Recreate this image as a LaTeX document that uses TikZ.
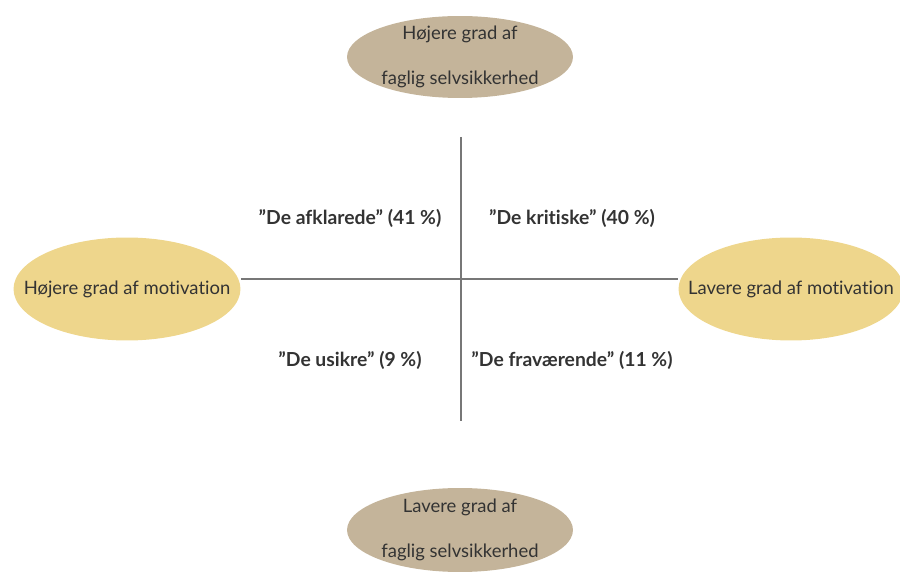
\documentclass[tikz,border=0pt]{standalone}
\usepackage{fontspec}
\setmainfont{Lato}[Ligatures=NoCommon]
\definecolor{taupe}{HTML}{C4B49A}
\definecolor{sand}{HTML}{EED68C}
\definecolor{ink}{HTML}{333333}
\definecolor{axis}{HTML}{777777}
\usetikzlibrary{shapes.geometric}

\begin{document}
\begin{tikzpicture}[x=0.02cm, y=-0.02cm, align=center, text=ink, font=\fontsize{10.5}{12}\selectfont,
    blob/.style={ellipse, inner sep=0pt},
    group/.style={font=\fontsize{11}{13}\selectfont\bfseries}]
      \useasboundingbox (0,0) rectangle (900,574);

      \node[blob, fill=taupe, minimum width=4.52cm, minimum height=1.64cm,
        label={[align=center]center:Højere grad af\\[0.48cm] faglig selvsikkerhed}] (SH) at (460,57) {};
      \node[blob, fill=taupe, minimum width=4.52cm, minimum height=1.68cm,
        label={[align=center]center:Lavere grad af\\[0.48cm] faglig selvsikkerhed}] (SL) at (460,530) {};
      \node[blob, fill=sand, minimum width=4.54cm, minimum height=2.06cm,
        label=center:Højere grad af motivation] (MH) at (127,289) {};
      \node[blob, fill=sand, minimum width=4.5cm, minimum height=2.06cm,
        label=center:Lavere grad af motivation] (ML) at (791,289) {};

      \coordinate (V1) at (461,137);
      \coordinate (V2) at (461,421);
      \coordinate (H1) at (MH.east |- 0,279);
      \coordinate (H2) at (ML.west |- 0,279);

      \draw[axis, thick] (V1) -- (V2);
      \draw[axis, thick] (H1) -- (H2);

      \node[group] (Q1) at (350,218) {”De afklarede” (41 \%)};
      \node[group] (Q2) at (572,218) {”De kritiske” (40 \%)};
      \node[group] (Q3) at (350,360) {”De usikre” (9 \%)};
      \node[group] (Q4) at (572,360) {”De fraværende” (11 \%)};
    \end{tikzpicture}
\end{document}
